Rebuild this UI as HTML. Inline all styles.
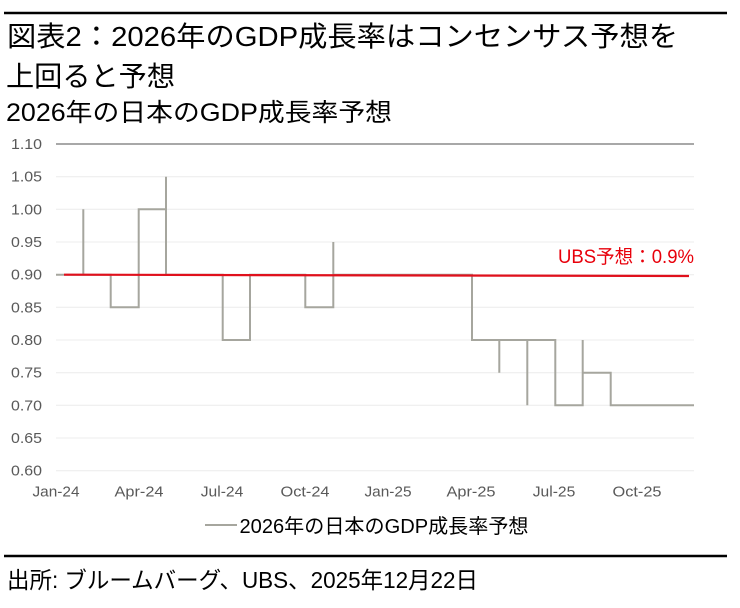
<!DOCTYPE html>
<html>
<head>
<meta charset="utf-8">
<style>
  html, body { margin: 0; padding: 0; background: #ffffff; }
  svg { display: block; }
  text { font-family: "Liberation Sans", "Noto Sans CJK JP", sans-serif; }
</style>
</head>
<body>
<svg width="740" height="608" viewBox="0 0 740 608" xmlns="http://www.w3.org/2000/svg">
  <rect x="0" y="0" width="740" height="608" fill="#ffffff"/>

  <!-- top rule -->
  <line x1="4" y1="13" x2="727" y2="13" stroke="#000" stroke-width="2.5"/>

  <!-- titles -->
  <text x="7" y="46" font-size="28" fill="#000" textLength="671" lengthAdjust="spacingAndGlyphs">図表2：2026年のGDP成長率はコンセンサス予想を</text>
  <text x="6" y="86" font-size="28" fill="#000" textLength="169" lengthAdjust="spacingAndGlyphs">上回ると予想</text>
  <text x="6" y="121" font-size="25" fill="#000" textLength="386" lengthAdjust="spacingAndGlyphs">2026年の日本のGDP成長率予想</text>

  <!-- gridlines -->
  <g stroke="#ececec" stroke-width="1">
    <line x1="56" y1="176.7" x2="694" y2="176.7"/>
    <line x1="56" y1="209.3" x2="694" y2="209.3"/>
    <line x1="56" y1="242" x2="694" y2="242"/>
    <line x1="56" y1="274.7" x2="694" y2="274.7"/>
    <line x1="56" y1="307.3" x2="694" y2="307.3"/>
    <line x1="56" y1="340" x2="694" y2="340"/>
    <line x1="56" y1="372.7" x2="694" y2="372.7"/>
    <line x1="56" y1="405.3" x2="694" y2="405.3"/>
    <line x1="56" y1="438" x2="694" y2="438"/>
    <line x1="56" y1="470.7" x2="694" y2="470.7"/>
  </g>
  <line x1="56" y1="144" x2="694" y2="144" stroke="#a8a8a8" stroke-width="2"/>

  <!-- y labels -->
  <g font-size="15" fill="#595959" text-anchor="end">
    <text x="42" y="149" textLength="31" lengthAdjust="spacingAndGlyphs">1.10</text>
    <text x="42" y="181.7" textLength="31" lengthAdjust="spacingAndGlyphs">1.05</text>
    <text x="42" y="214.3" textLength="31" lengthAdjust="spacingAndGlyphs">1.00</text>
    <text x="42" y="247" textLength="31" lengthAdjust="spacingAndGlyphs">0.95</text>
    <text x="42" y="279.7" textLength="31" lengthAdjust="spacingAndGlyphs">0.90</text>
    <text x="42" y="312.3" textLength="31" lengthAdjust="spacingAndGlyphs">0.85</text>
    <text x="42" y="345" textLength="31" lengthAdjust="spacingAndGlyphs">0.80</text>
    <text x="42" y="377.7" textLength="31" lengthAdjust="spacingAndGlyphs">0.75</text>
    <text x="42" y="410.3" textLength="31" lengthAdjust="spacingAndGlyphs">0.70</text>
    <text x="42" y="443" textLength="31" lengthAdjust="spacingAndGlyphs">0.65</text>
    <text x="42" y="475.7" textLength="31" lengthAdjust="spacingAndGlyphs">0.60</text>
  </g>

  <!-- x labels -->
  <g font-size="15" fill="#595959" text-anchor="middle">
    <text x="56" y="496.5" textLength="47" lengthAdjust="spacingAndGlyphs">Jan-24</text>
    <text x="139" y="496.5" textLength="49" lengthAdjust="spacingAndGlyphs">Apr-24</text>
    <text x="222" y="496.5" textLength="42.5" lengthAdjust="spacingAndGlyphs">Jul-24</text>
    <text x="305" y="496.5" textLength="49" lengthAdjust="spacingAndGlyphs">Oct-24</text>
    <text x="388" y="496.5" textLength="47" lengthAdjust="spacingAndGlyphs">Jan-25</text>
    <text x="471" y="496.5" textLength="49" lengthAdjust="spacingAndGlyphs">Apr-25</text>
    <text x="554" y="496.5" textLength="42.5" lengthAdjust="spacingAndGlyphs">Jul-25</text>
    <text x="637" y="496.5" textLength="49" lengthAdjust="spacingAndGlyphs">Oct-25</text>
  </g>

  <!-- series -->
  <path d="M56,274.7 H83.3 V209.3 V274.7 H110.7 V307.3 H138.7 V209.3 H166 V176.7 V274.7 H222.7 V340 H250 V274.7 H305.3 V307.3 H333.3 V242 V274.7 H472 V340 H499.3 V372.7 V340 H527.3 V405.3 V340 H555.3 V405.3 H582.7 V340 V372.7 H610.7 V405.3 H694"
        fill="none" stroke="#a6a69e" stroke-width="2" stroke-linejoin="miter"/>

  <!-- UBS forecast line -->
  <line x1="64" y1="274.7" x2="689" y2="276" stroke="#e0101c" stroke-width="2.2"/>
  <text x="558" y="263" font-size="19" fill="#e8000b" textLength="136" lengthAdjust="spacingAndGlyphs">UBS予想：0.9%</text>

  <!-- legend -->
  <line x1="205" y1="525" x2="237" y2="525" stroke="#a6a69e" stroke-width="2"/>
  <text x="239.5" y="533" font-size="20" fill="#000" textLength="289" lengthAdjust="spacingAndGlyphs">2026年の日本のGDP成長率予想</text>

  <!-- bottom rule -->
  <line x1="4" y1="556" x2="727" y2="556" stroke="#000" stroke-width="2.5"/>

  <!-- source -->
  <text x="7" y="588" font-size="23" fill="#000" textLength="471" lengthAdjust="spacingAndGlyphs">出所: ブルームバーグ、UBS、2025年12月22日</text>
</svg>
</body>
</html>
